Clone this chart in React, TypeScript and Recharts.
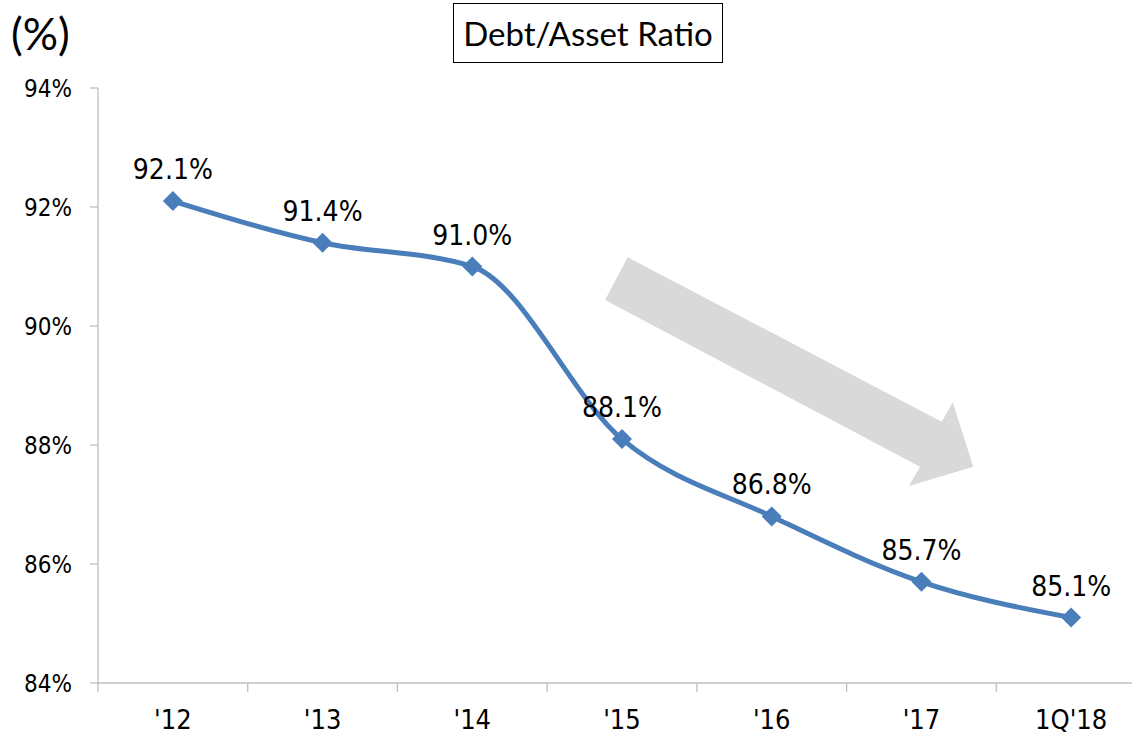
import React from 'react';
import { LineChart, Line, XAxis, YAxis, LabelList } from 'recharts';

const periods = ["'12", "'13", "'14", "'15", "'16", "'17", "1Q'18"];
const ratios = [92.1, 91.4, 91.0, 88.1, 86.8, 85.7, 85.1];
const yTicks = [84, 86, 88, 90, 92, 94];

const data = periods.map((p, i) => ({ period: p, ratio: ratios[i] }));

const AXIS = '#bfbfbf';
const BLUE = '#4a7ebb';
const FONT = '"DejaVu Sans Condensed", "DejaVu Sans", sans-serif';
const TITLE_FONT = 'Lato, "Noto Sans", sans-serif';

// diamond marker on each point
const Diamond = (props: any) => {
  const { cx, cy } = props;
  if (cx == null || cy == null) return null;
  return (
    <polygon
      points={`${cx},${cy - 10} ${cx + 10},${cy} ${cx},${cy + 10} ${cx - 10},${cy}`}
      fill={BLUE}
    />
  );
};

// x tick: label in the middle, tick marks on category borders
const XTick = (props: any) => {
  const { x, payload, index } = props;
  const half = payload && payload.offset ? payload.offset : 74.9;
  const axisY = 683;
  const last = index === periods.length - 1;
  return (
    <g>
      <line x1={x - half} x2={x - half} y1={axisY} y2={axisY + 9} stroke={AXIS} strokeWidth={1.3} />
      {last && <line x1={x + half} x2={x + half} y1={axisY} y2={axisY + 9} stroke={AXIS} strokeWidth={1.3} />}
      <text x={x} y={729} textAnchor="middle" fontSize={27} fontFamily={FONT} fill="#000">
        {payload.value}
      </text>
    </g>
  );
};

const App: React.FC = () => {
  return (
    <div style={{ position: 'fixed', left: 0, top: 0, width: 1132, height: 735, overflow: 'hidden', background: '#fff' }}>
      <LineChart width={1146} height={735} data={data} margin={{ top: 88, right: 0, bottom: 0, left: 0 }}>
        <XAxis
          dataKey="period"
          scale="band"
          height={52}
          stroke={AXIS}
          strokeWidth={1.3}
          tickLine={false}
          interval={0}
          tick={<XTick />}
        />
        <YAxis
          domain={[84, 94]}
          ticks={yTicks}
          width={98}
          stroke={AXIS}
          strokeWidth={1.3}
          tickSize={8}
          tickMargin={18}
          tickFormatter={(v: number) => `${v}%`}
          tick={{ fontSize: 24, fontFamily: FONT, fill: '#000' }}
        />
        <Line
          type="monotone"
          dataKey="ratio"
          stroke={BLUE}
          strokeWidth={5}
          dot={<Diamond />}
          activeDot={false}
          isAnimationActive={false}
        >
          <LabelList
            dataKey="ratio"
            position="top"
            offset={22}
            formatter={(v: any) => `${Number(v).toFixed(1)}%`}
            style={{ fontSize: 28, fontFamily: FONT, fill: '#000' }}
          />
        </Line>
      </LineChart>

      <div style={{ position: 'absolute', left: 11, top: 8, fontFamily: TITLE_FONT, fontSize: 44, lineHeight: '50px', color: '#000' }}>
        (%)
      </div>
      <div
        style={{
          position: 'absolute',
          left: 453,
          top: 3,
          width: 268,
          height: 58,
          border: '1.5px solid #000',
          fontFamily: TITLE_FONT,
          fontSize: 33,
          lineHeight: '58px',
          textAlign: 'center',
          color: '#000',
        }}
      >
        Debt/Asset Ratio
      </div>

      <svg width={1132} height={735} style={{ position: 'absolute', left: 0, top: 0, pointerEvents: 'none' }}>
        <polygon
          points="627.7,257.3 941.7,421.7 952.7,402.3 973.3,466.7 909,486 920,466.7 605,300"
          fill="#d9d9d9"
        />
      </svg>
    </div>
  );
};

export default App;
